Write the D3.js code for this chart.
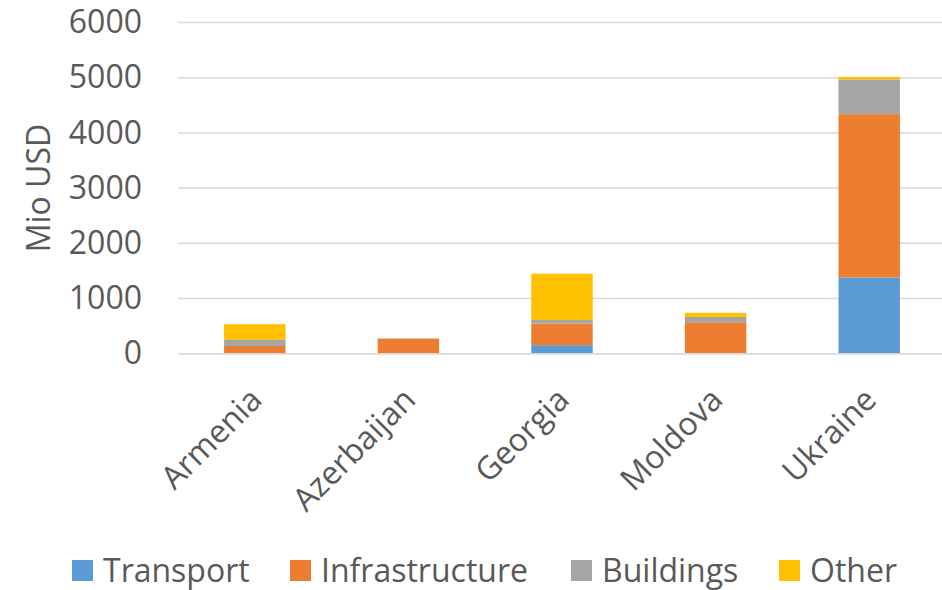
<!DOCTYPE html>
<html><head><meta charset="utf-8">
<script src="https://cdn.jsdelivr.net/npm/d3@7"></script>
<style>body{margin:0;background:#fff;} svg{display:block;}</style>
</head><body>
<svg id="c" width="942" height="590"></svg>
<script>
const categories = ["Armenia","Azerbaijan","Georgia","Moldova","Ukraine"];
const seriesNames = ["Transport","Infrastructure","Buildings","Other"];
const transport = [0, 0, 155, 0, 1380];
const infrastructure = [140, 275, 390, 570, 2960];
const buildings = [110, 0, 65, 95, 630];
const other = [285, 0, 840, 75, 45];
const yTicks = [0,1000,2000,3000,4000,5000,6000];
const colors = ["#5B9BD5","#ED7D31","#A5A5A5","#FFC000"];

const font = "'Open Sans', sans-serif";
const textColor = "#595959";
const svg = d3.select("#c");
const mLeft = 178, mRight = 946, mTop = 22.5, mBottom = 353.7;

const x = d3.scaleBand().domain(categories).range([mLeft, mRight]).padding(0);
const y = d3.scaleLinear().domain([0, 6000]).range([mBottom, mTop]);

const rows = categories.map((c,i)=>({cat:c, Transport:transport[i], Infrastructure:infrastructure[i], Buildings:buildings[i], Other:other[i]}));
const stack = d3.stack().keys(seriesNames)(rows);

// gridlines
svg.append("g").selectAll("line").data(yTicks).join("line")
  .attr("x1", mLeft).attr("x2", mRight)
  .attr("y1", d=>y(d)).attr("y2", d=>y(d))
  .attr("stroke", "#D9D9D9").attr("stroke-width", 1.5);

// y-axis labels
const yAxis = svg.append("g").attr("transform", `translate(${mLeft},0)`)
  .call(d3.axisLeft(y).tickValues(yTicks).tickFormat(d3.format("d")).tickSize(0).tickPadding(36));
yAxis.select(".domain").remove();
yAxis.selectAll("text").attr("font-family", font).attr("font-size", 32).attr("fill", textColor);

// bars
const bw = x.bandwidth()*0.4;
svg.append("g").selectAll("g").data(stack).join("g")
  .attr("fill", (d,i)=>colors[i])
  .selectAll("rect").data(d=>d).join("rect")
  .attr("x", d=>x(d.data.cat) + (x.bandwidth()-bw)/2)
  .attr("width", bw)
  .attr("y", d=>y(d[1]))
  .attr("height", d=>Math.max(0, y(d[0]) - y(d[1])));

// baseline
svg.append("line").attr("x1", mLeft).attr("x2", mRight).attr("y1", y(0)).attr("y2", y(0))
  .attr("stroke", "#D9D9D9").attr("stroke-width", 1.5);

// x-axis labels
const xAxis = svg.append("g").attr("transform", `translate(0,${y(0)})`)
  .call(d3.axisBottom(x).tickSize(0));
xAxis.select(".domain").remove();
xAxis.selectAll("text")
  .attr("font-family", font).attr("font-size", 32).attr("fill", textColor)
  .attr("text-anchor", "end")
  .attr("dy", "0.35em")
  .attr("transform", "translate(-1,38) rotate(-45)");

// y title
svg.append("text").attr("transform", `translate(50,${(mTop+mBottom)/2}) rotate(-90)`)
  .attr("text-anchor", "middle").attr("font-family", font).attr("font-size", 32)
  .attr("fill", textColor).text("Mio USD");

// legend
const legendX = [72, 290, 571, 779];
const lg = svg.append("g").selectAll("g").data(seriesNames).join("g")
  .attr("transform", (d,i)=>`translate(${legendX[i]},560)`);
lg.append("rect").attr("width", 21).attr("height", 21).attr("fill", (d,i)=>colors[i]);
lg.append("text").attr("x", 31).attr("y", 11).attr("dy", "0.35em")
  .attr("font-family", font).attr("font-size", 32).attr("fill", textColor).text(d=>d);
</script>
</body></html>
